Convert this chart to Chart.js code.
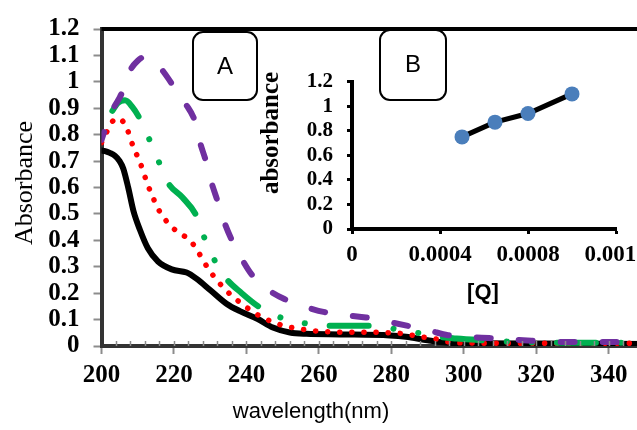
<!DOCTYPE html>
<html><head><meta charset="utf-8">
<script src="https://cdn.jsdelivr.net/npm/chart.js@4"></script>
<style>
html,body{margin:0;padding:0;background:#fff;overflow:hidden;width:637px;height:430px;}
#wrap{position:relative;width:637px;height:430px;overflow:hidden;background:#fff;}
#main{position:absolute;left:0;top:0;}
#inset{position:absolute;left:250px;top:55px;}
</style></head><body>
<div id="wrap">
<canvas id="main" width="660" height="430"></canvas>
<canvas id="inset" width="430" height="260"></canvas>
</div>
<script>
// ---- Panel A data: absorbance spectra ----
const blackWl = [200,201,202.3,203.7,205,206,207.4,208.8,210.6,212.8,215.6,219.4,223.5,226.2,229.9,234.5,238.2,243,247.3,252,256.6,265.8,279.6,284,290,295,300,320,350];
const blackAbs = [0.74,0.738,0.731,0.72,0.70,0.672,0.598,0.512,0.44,0.37,0.32,0.29,0.278,0.255,0.213,0.16,0.132,0.103,0.07,0.051,0.046,0.044,0.04,0.035,0.022,0.013,0.01,0.009,0.008];

const redWl = [200,201,202.3,204.6,207,208,209.2,210.5,211.6,212.7,214,215.2,217,219,221.6,224.4,226.4,228,229.7,231.8,234,236.4,239,241.8,244.6,247.8,251,254.3,258,261.5,265,275,280,283,286,289,292.5,295.5,299,320,350];
const redAbs = [0.77,0.795,0.837,0.862,0.825,0.783,0.74,0.70,0.657,0.612,0.57,0.53,0.49,0.455,0.427,0.40,0.363,0.325,0.288,0.25,0.216,0.185,0.157,0.129,0.107,0.088,0.074,0.066,0.058,0.055,0.052,0.052,0.05,0.047,0.04,0.033,0.026,0.016,0.012,0.01,0.01];

const greenWl = [203,204.5,206.5,208.5,210.6,213.4,215.9,218.4,222.3,226.3,228.3,231,234.3,238.7,243.3,249,255.3,261.6,268,274,280.4,286.8,293,298,304.5,311.6,320,335,350];
const greenAbs = [0.89,0.92,0.93,0.905,0.86,0.776,0.695,0.617,0.563,0.49,0.413,0.33,0.257,0.2,0.15,0.11,0.088,0.077,0.077,0.077,0.066,0.051,0.035,0.028,0.022,0.017,0.013,0.012,0.012];

const purpleWl = [200,201.5,203.5,205,206,208,210,212,214,217,220.5,223.3,225.8,227.2,228.7,230,232,234,236,238.5,241.5,246,250.6,257,261.6,267.7,273,279,284.6,290.6,295.6,301.6,307,313,318.7,325,331,342,350];
const purpleAbs = [0.78,0.84,0.905,0.94,0.97,1.045,1.08,1.095,1.085,1.04,0.97,0.915,0.85,0.77,0.705,0.635,0.55,0.465,0.40,0.335,0.27,0.213,0.177,0.145,0.128,0.116,0.108,0.092,0.076,0.058,0.041,0.034,0.03,0.025,0.02,0.016,0.015,0.015,0.014];

const xTicks = [200,220,240,260,280,300,320,340];
const xTickLabels = ['200','220','240','260','280','300','320','340'];
const yTicks = [0,0.1,0.2,0.3,0.4,0.5,0.6,0.7,0.8,0.9,1,1.1,1.2];
const yTickLabels = ['0','0.1','0.2','0.3','0.4','0.5','0.6','0.7','0.8','0.9','1','1.1','1.2'];

// ---- Panel B data: absorbance vs [Q] ----
const qConc = [0.0005,0.00065,0.0008,0.001];
const qAbs = [0.75,0.87,0.94,1.10];
const qxTicks = [0,0.0004,0.0008,0.0012];
const qxTickLabels = ['0','0.0004','0.0008','0.0012'];
const qyTicks = [0,0.2,0.4,0.6,0.8,1,1.2];
const qyTickLabels = ['0','0.2','0.4','0.6','0.8','1','1.2'];

const SERIF = '"Liberation Serif", "Times New Roman", serif';
const SANS = '"Liberation Sans", Arial, sans-serif';
const pts = (xs, ys) => xs.map((x, i) => ({x, y: ys[i]}));

const mainDecor = {
  id: 'mainDecor',
  afterDraw(chart) {
    const ctx = chart.ctx, a = chart.chartArea, xs = chart.scales.x;
    ctx.save();
    // top and right frame
    ctx.strokeStyle = '#000'; ctx.lineWidth = 4;
    ctx.beginPath();
    ctx.moveTo(a.left, a.top); ctx.lineTo(a.right, a.top); ctx.lineTo(a.right, a.bottom);
    ctx.stroke();
    // minor ticks on x axis
    ctx.strokeStyle = '#8c8c8c'; ctx.lineWidth = 1.5;
    for (let v = 204; v < 350; v += 4) {
      const px = Math.round(xs.getPixelForValue(v)) + 0.5;
      ctx.beginPath(); ctx.moveTo(px, a.bottom - 5); ctx.lineTo(px, a.bottom); ctx.stroke();
    }
    // axis titles
    ctx.fillStyle = '#000';
    ctx.font = '26px ' + SERIF;
    ctx.textAlign = 'center'; ctx.textBaseline = 'middle';
    ctx.save(); ctx.translate(25, 183); ctx.rotate(-Math.PI / 2);
    ctx.fillText('Absorbance', 0, 0); ctx.restore();
    ctx.font = '22px ' + SANS;
    ctx.fillText('wavelength(nm)', 311, 412);
    // panel boxes
    ctx.lineWidth = 2; ctx.strokeStyle = '#000';
    ctx.beginPath(); ctx.roundRect(193, 32, 64, 68, 10); ctx.stroke();
    ctx.beginPath(); ctx.roundRect(380, 30, 66, 70, 10); ctx.stroke();
    ctx.font = '24px ' + SANS;
    ctx.fillText('A', 225, 67);
    ctx.fillText('B', 413, 65);
    ctx.restore();
  }
};

new Chart(document.getElementById('main'), {
  type: 'line',
  data: {
    datasets: [
      {data: pts(purpleWl, purpleAbs), borderColor: '#7030a0', borderWidth: 6, borderDash: [14, 28], borderDashOffset: 6, borderCapStyle: 'round', order: 0},
      {data: pts(greenWl, greenAbs), borderColor: '#00b050', borderWidth: 6, borderDash: [39, 25, 0.1, 25, 0.1, 25], borderCapStyle: 'round', order: 1},
      {data: pts(redWl, redAbs), borderColor: '#ff0000', borderWidth: 5.5, borderDash: [0.1, 12], borderCapStyle: 'round', order: 2},
      {data: pts(blackWl, blackAbs), borderColor: '#000000', borderWidth: 6, borderCapStyle: 'round', order: 3}
    ]
  },
  options: {
    responsive: false, animation: false,
    layout: {padding: {top: 20, right: 15, left: 0, bottom: 0}},
    plugins: {legend: {display: false}, tooltip: {enabled: false}},
    elements: {point: {radius: 0}, line: {cubicInterpolationMode: 'monotone', fill: false}},
    scales: {
      x: {
        type: 'linear', min: 200, max: 350,
        afterBuildTicks: s => { s.ticks = xTicks.map(v => ({value: v})); },
        afterFit: s => { s.height = 84; },
        ticks: {callback: (v, i) => xTickLabels[i], font: {family: SERIF, size: 25, weight: 'bold'}, color: '#000', padding: 7, maxRotation: 0, autoSkip: false},
        grid: {drawOnChartArea: false, drawTicks: true, tickLength: 8, tickColor: '#8c8c8c', tickWidth: 2},
        border: {display: true, color: '#333', width: 4}
      },
      y: {
        type: 'linear', min: 0, max: 1.2,
        afterBuildTicks: s => { s.ticks = yTicks.map(v => ({value: v})); },
        afterFit: s => { s.width = 101.5; },
        ticks: {callback: (v, i) => yTickLabels[i], font: {family: SERIF, size: 25, weight: 'bold'}, color: '#000', padding: 14, autoSkip: false},
        grid: {drawOnChartArea: false, drawTicks: true, tickLength: 8, tickColor: '#8c8c8c', tickWidth: 2},
        border: {display: true, color: '#333', width: 4}
      }
    }
  },
  plugins: [mainDecor]
});

const insetDecor = {
  id: 'insetDecor',
  afterDraw(chart) {
    const ctx = chart.ctx;
    ctx.save();
    ctx.fillStyle = '#000';
    ctx.textAlign = 'center'; ctx.textBaseline = 'middle';
    ctx.font = 'bold 25px ' + SERIF;
    ctx.save(); ctx.translate(22, 78); ctx.rotate(-Math.PI / 2);
    ctx.fillText('absorbance', 0, 0); ctx.restore();
    ctx.font = 'bold 22px ' + SANS;
    ctx.fillText('[Q]', 233, 238);
    ctx.restore();
  }
};

new Chart(document.getElementById('inset'), {
  type: 'line',
  data: {
    datasets: [{
      data: pts(qConc, qAbs), borderColor: '#000', borderWidth: 5,
      pointRadius: 7.5, pointBackgroundColor: '#4a7ebb', pointBorderWidth: 0, tension: 0, clip: false
    }]
  },
  options: {
    responsive: false, animation: false,
    layout: {padding: {top: 21, right: 64, left: 0, bottom: 0}},
    plugins: {legend: {display: false}, tooltip: {enabled: false}},
    scales: {
      x: {
        type: 'linear', min: 0, max: 0.0012,
        afterBuildTicks: s => { s.ticks = qxTicks.map(v => ({value: v})); },
        afterFit: s => { s.height = 86; },
        ticks: {callback: (v, i) => qxTickLabels[i], font: {family: SERIF, size: 23, weight: 'bold'}, color: '#000', padding: 7, maxRotation: 0, autoSkip: false},
        grid: {drawOnChartArea: false, drawTicks: true, tickLength: 5, tickColor: '#000', tickWidth: 3},
        border: {display: true, color: '#000', width: 4}
      },
      y: {
        type: 'linear', min: 0, max: 1.2,
        afterBuildTicks: s => { s.ticks = qyTicks.map(v => ({value: v})); },
        afterFit: s => { s.width = 102; },
        ticks: {callback: (v, i) => qyTickLabels[i], font: {family: SERIF, size: 21, weight: 'bold'}, color: '#000', padding: 14, autoSkip: false},
        grid: {drawOnChartArea: false, drawTicks: true, tickLength: 5, tickColor: '#000', tickWidth: 3},
        border: {display: true, color: '#000', width: 4}
      }
    }
  },
  plugins: [insetDecor]
});
</script>
</body></html>
